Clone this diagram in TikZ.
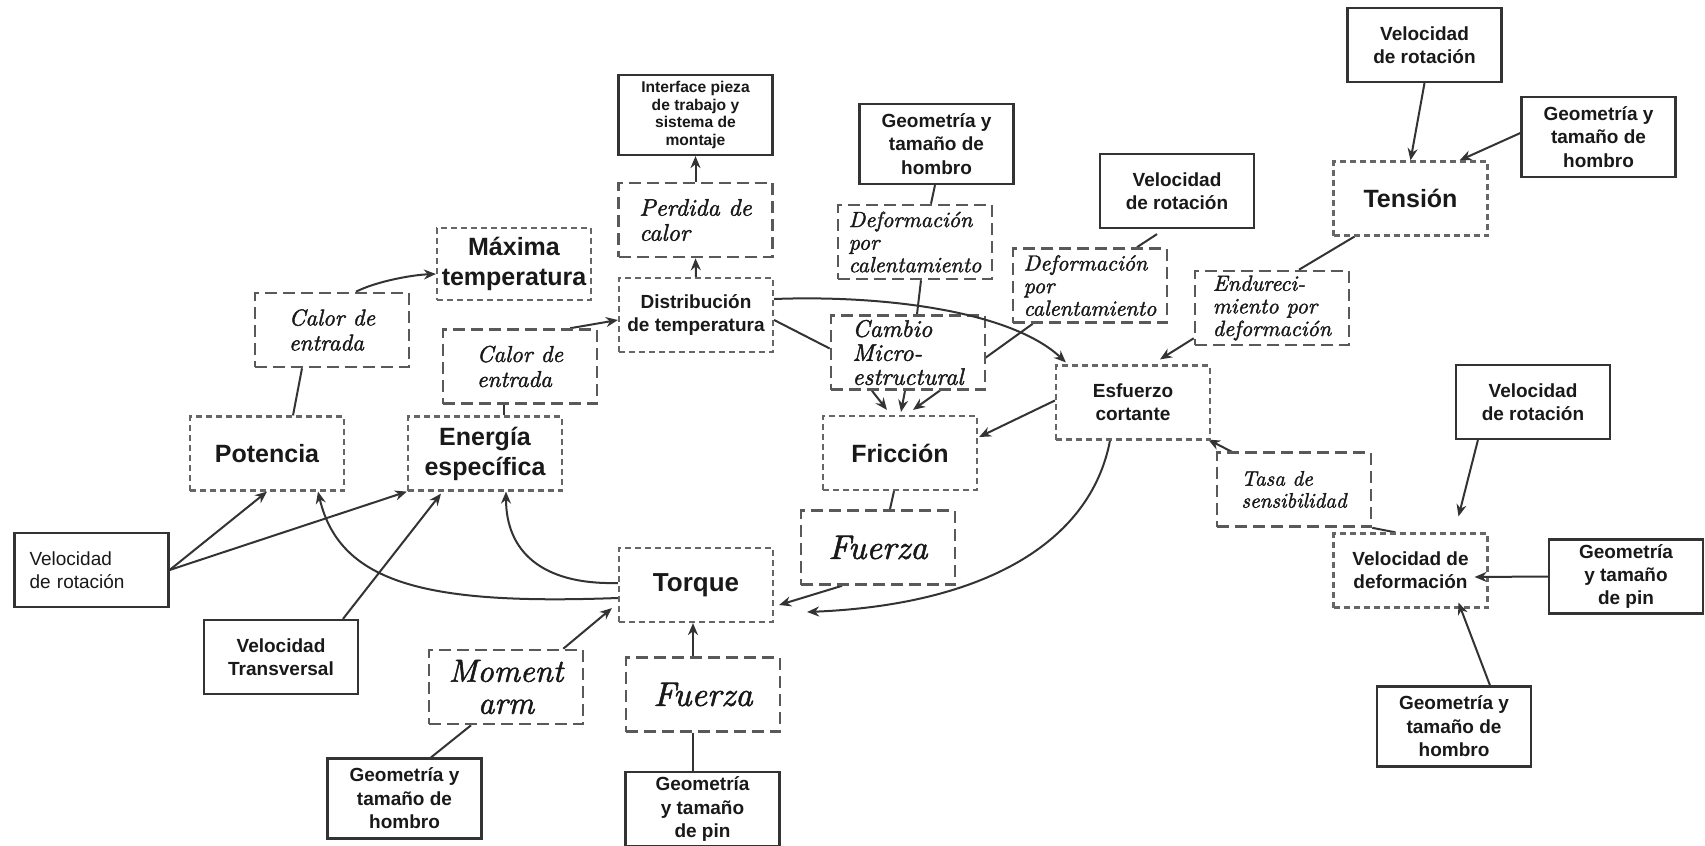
\documentclass[tikz,border=0pt]{standalone}
\usepackage{fontspec}
\newfontfamily\arial{Liberation Sans}
\newfontfamily\scrit{lmroman10-italic.otf}[FakeBold=1.6]
\usetikzlibrary{arrows.meta,calc,backgrounds}
\begin{document}
\begin{tikzpicture}[x=0.5pt,y=-0.5pt,
  base/.style={align=center, inner sep=0pt, minimum width=77pt, minimum height=37pt, fill=white, text=black!90},
  solidbox/.style={base, draw=black!80, line width=1.1pt, font=\arial\bfseries\fontsize{9.5}{11.7}\selectfont},
  tallbox/.style={solidbox, minimum height=40pt},
  dotbox/.style={base, draw=black!60, line width=1.1pt, dash pattern=on 3pt off 2pt, font=\arial\bfseries\fontsize{12.5}{15}\selectfont},
  dotsmall/.style={dotbox, font=\arial\bfseries\fontsize{9.5}{11.7}\selectfont},
  dashbox/.style={base, draw=black!65, line width=1.3pt, dash pattern=on 6pt off 3pt, align=left, font=\scrit\fontsize{11.5}{12.5}\selectfont},
  conn/.style={draw=black!80, line width=1pt},
  arr/.style={conn, -{Stealth[length=6pt,width=5pt]}},
]
\useasboundingbox (0,0) rectangle (1705,846);

% solid boxes
\node[solidbox, font=\arial\fontsize{9.5}{11.7}\selectfont, align=left, text width=62pt] (vrl) at (91.5,570) {Velocidad\\de rotación};
\node[solidbox] (vt) at (281,657) {Velocidad\\Transversal};
\node[tallbox] (gh1) at (404.5,798.5) {Geometría y\\tamaño de\\hombro};
\node[solidbox] (gpb) at (702.5,809) {Geometría\\y  tamaño\\de pin};
\node[tallbox, font=\arial\bfseries\fontsize{7.8}{8.8}\selectfont] (int) at (695.5,115) {Interface pieza\\de trabajo y\\sistema de\\montaje};
\node[tallbox] (gh2) at (936.5,144) {Geometría y\\tamaño de\\hombro};
\node[solidbox] (vrm) at (1177,191) {Velocidad\\de rotación};
\node[solidbox] (vrt) at (1424.5,45) {Velocidad\\de rotación};
\node[tallbox] (gh3) at (1598.5,137) {Geometría y\\tamaño de\\hombro};
\node[solidbox] (vrr) at (1533,402) {Velocidad\\de rotación};
\node[solidbox] (gpr) at (1626,576.5) {Geometría\\y  tamaño\\de pin};
\node[tallbox] (gh4) at (1454,726.5) {Geometría y\\tamaño de\\hombro};

% dotted boxes
\node[dotbox, minimum height=36pt] (max) at (514,264) {Máxima\\temperatura};
\node[dotbox] (pot) at (267,453.5) {Potencia};
\node[dotbox] (en) at (485,453.5) {Energía\\específica};
\node[dotsmall] (dist) at (696,315) {Distribución\\de temperatura};
\node[dotbox] (fric) at (900,453) {Fricción};
\node[dotbox, font=\arial\bfseries\fontsize{13}{15}\selectfont] (tq) at (696,585) {Torque};
\node[dotsmall] (esf) at (1133,402.5) {Esfuerzo\\cortante};
\node[dotbox] (ten) at (1410.5,198.5) {Tensión};
\node[dotsmall] (vd) at (1410.5,570.5) {Velocidad de\\deformación};

% dashed boxes
\node[dashbox] (c1) at (332,330) {Calor de\\entrada};
\node[dashbox] (c2) at (520,366.5) {Calor de\\entrada};
\node[dashbox, font=\scrit\fontsize{12}{12.5}\selectfont] (per) at (695.5,220) {Perdida de\\calor};
\node[dashbox, font=\scrit\fontsize{11}{11.3}\selectfont] (def1) at (915,242) {Deformación\\por\\calentamiento};
\node[dashbox, font=\scrit\fontsize{12}{12}\selectfont] (cam) at (908,352.5) {Cambio\\Micro-\\estructural};
\node[dashbox, font=\scrit\fontsize{17}{18}\selectfont, align=center] (fm) at (878,547.5) {Fuerza};
\node[dashbox, font=\scrit\fontsize{11}{11.3}\selectfont] (def2) at (1090,285.5) {Deformación\\por\\calentamiento};
\node[dashbox, font=\scrit\fontsize{11}{11.3}\selectfont] (endu) at (1272,308) {Endureci-\\miento por\\deformación};
\node[dashbox, font=\scrit\fontsize{10.5}{11}\selectfont] (tasa) at (1294,489.5) {Tasa de\\sensibilidad};
\node[dashbox, font=\scrit\fontsize{16}{16}\selectfont, align=center] (mo) at (506,687) {Moment\\arm};
\node[dashbox, font=\scrit\fontsize{17}{18}\selectfont, align=center] (fb) at (703,694.5) {Fuerza};

% connectors behind the boxes
\begin{scope}[on background layer]
\fill[white] (0,0) rectangle (1705,846);
\draw[arr] (vrl.east) -- (pot.south);
\draw[arr] (vrl.east) -- (en.south west);
\draw[arr] ($(vt.north)+(62,0)$) -- ($(en.south)+(-44,2)$);
\draw[arr] ($(tq.west)+(0,13)$) .. controls (430,605) and (340,585) .. ($(pot.south)+(51,0)$);
\draw[arr] ($(tq.west)+(0,-2)$) .. controls (540,585) and (506,550) .. ($(en.south)+(21,0)$);
\draw[conn] ($(pot.north)+(26,0)$) -- ($(c1.south)+(-30,0)$);
\draw[arr] ($(c1.north)+(24,0)$) .. controls (375,282) and (410,275) .. ($(max.west)+(0,10)$);
\draw[conn] ($(en.north)+(19,0)$) -- ($(c2.south)+(-16,0)$);
\draw[arr] ($(c2.north east)+(-28,0)$) -- ($(dist.west)+(0,5)$);
\draw[arr] (dist.north) -- (per.south);
\draw[arr] (per.north) -- (int.south);
\draw[conn] ($(dist.east)+(0,5)$) -- ($(cam.west)+(0,-4)$);
\draw[arr] ($(cam.south)+(-36,0)$) -- ($(fric.north)+(-13,-5)$);
\draw[arr] ($(cam.south)+(-3,0)$) -- ($(fric.north)+(1,-3)$);
\draw[arr] ($(def2.south west)+(21,0)$) -- ($(fric.north)+(13,-5)$);
\draw[conn] ($(def1.south)+(6,0)$) -- ($(cam.north)+(9,0)$);
\draw[conn] ($(gh2.south)+(-1.5,0)$) -- ($(def1.north)+(16,0)$);
\draw[conn] ($(vrm.south)+(-20,5)$) -- ($(def2.north)+(47,0)$);
\draw[arr] ($(esf.west)+(0,-2)$) -- ($(fric.east)+(1,-16)$);
\draw[arr] ($(esf.south)+(-23,0)$) .. controls (1090,545) and (980,605) .. ($(tq.east)+(33,27)$);
\draw[arr] ($(fm.south)+(-36,0)$) -- ($(tq.east)+(5,20)$);
\draw[conn] ($(fric.south)+(-6,0)$) -- ($(fm.north)+(12,0)$);
\draw[arr] ($(endu.south west)+(0,-8)$) -- ($(esf.north)+(27,-5)$);
\draw[conn] ($(ten.south west)+(22,0)$) -- ($(endu.north)+(27,0)$);
\draw[arr] (vrt.south) -- (ten.north);
\draw[arr] ($(gh3.west)+(0,-4)$) -- ($(ten.north east)+(-29,0)$);
\draw[arr] ($(tasa.north west)+(17,1)$) -- ($(esf.south east)+(-3,-1)$);
\draw[conn] ($(vd.north)+(-15,0)$) -- (tasa.south east);
\draw[arr] ($(vrr.south west)+(23,0)$) -- ($(vd.north)+(48,-16)$);
\draw[arr] ($(mo.north east)+(-21,0)$) -- ($(tq.south west)+(-6,-15)$);
\draw[arr] ($(fb.north)+(-10,0)$) -- ($(tq.south)+(-3,0)$);
\draw[conn] ($(gh1.north)+(26.5,0)$) -- ($(mo.south)+(-35,0)$);
\draw[conn] ($(gpb.north)+(-9.5,0)$) -- ($(fb.south)+(-10,0)$);
\end{scope}

% connectors drawn over the boxes
\draw[arr] ($(dist.east)+(0,-16)$) .. controls (880,295) and (1010,310) .. ($(esf.north west)+(11,-2)$);
\draw[arr] (gpr.west) -- ($(vd.east)+(-14,6.5)$);
\draw[arr] ($(gh4.north)+(36,0)$) -- ($(vd.south)+(48,-6)$);
\end{tikzpicture}
\end{document}
